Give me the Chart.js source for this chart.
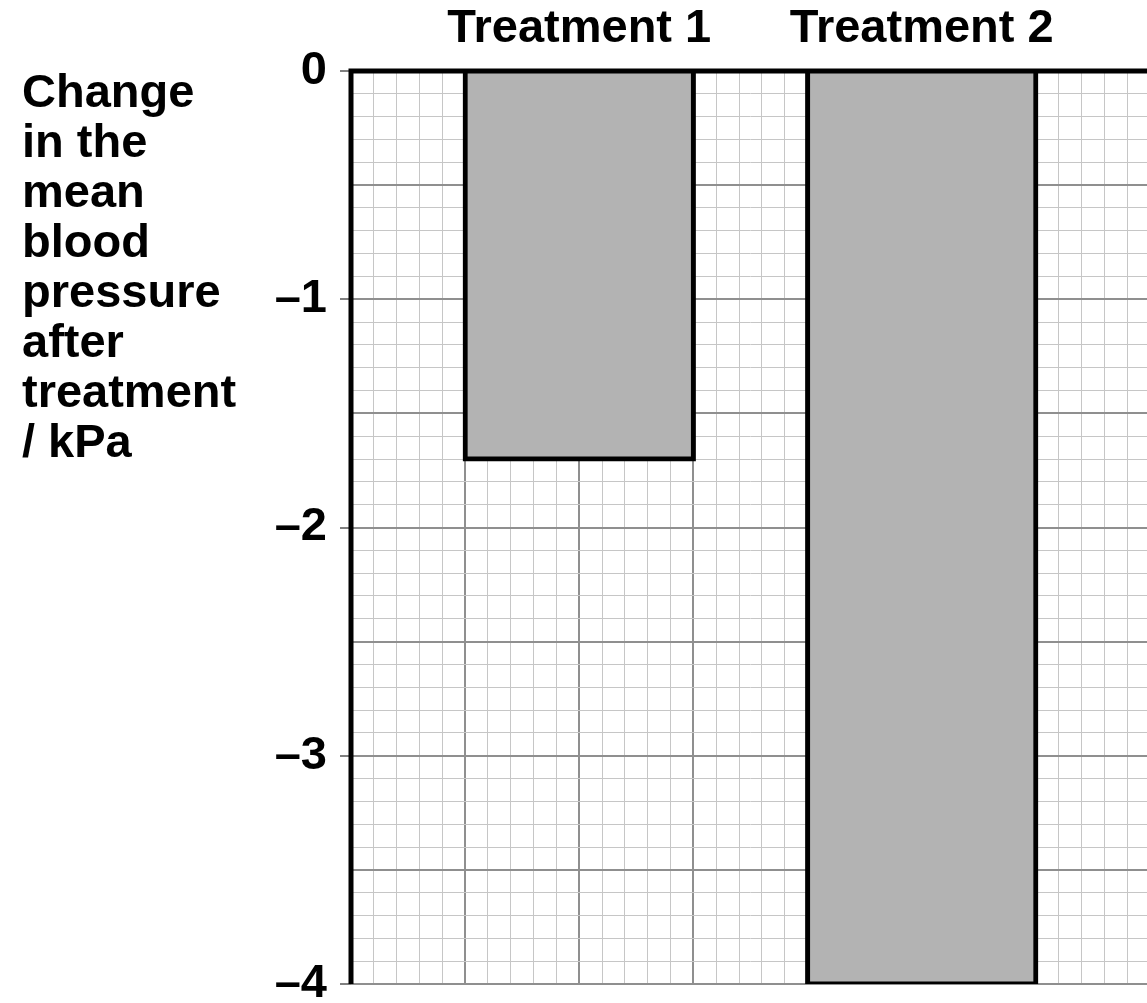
<!DOCTYPE html>
<html>
<head>
<meta charset="utf-8">
<script src="https://cdn.jsdelivr.net/npm/chart.js@4.4.0/dist/chart.umd.min.js"></script>
<style>
  html, body { margin: 0; padding: 0; background: #ffffff; overflow: hidden; width: 1147px; height: 1003px; }
  #wrap { position: relative; width: 1147px; height: 1003px; overflow: hidden; }
  #c { position: absolute; left: 0; top: 0; }
  #ytitle {
    position: absolute; left: 22px; top: 66px;
    font-family: "Liberation Sans", Arial, sans-serif; font-weight: bold;
    font-size: 47px; line-height: 50px; color: #000;
  }
</style>
</head>
<body>
<div id="wrap">
  <canvas id="c" width="1150" height="1003"></canvas>
  <div id="ytitle">Change<br>in the<br>mean<br>blood<br>pressure<br>after<br>treatment<br>/ kPa</div>
</div>
<script>
// ---- data ----
const categories = ['Treatment 1', 'Treatment 2'];
const categoryCentres = [10, 25];          // in grid squares along the x axis
const changeKPa = [-1.7, -4.0];
const yTickValues = [0, -1, -2, -3, -4];
const yMin = -4, yMax = 0;
const xMin = 0, xMax = 35;

const FONT = '"Liberation Sans", Arial, sans-serif';
const isInt = v => Math.abs(v - Math.round(v)) < 1e-6;
const isHalf = v => Math.abs(v * 2 - Math.round(v * 2)) < 1e-6;
const isFive = v => Math.abs(v / 5 - Math.round(v / 5)) < 1e-6;

const minorCol = '#c6c6c6', majorCol = '#8f8f8f';

const framePlugin = {
  id: 'frame',
  afterDatasetsDraw(chart) {
    const {ctx, chartArea: a} = chart;
    ctx.save();
    ctx.strokeStyle = '#000';
    ctx.lineWidth = 5;
    ctx.beginPath();
    ctx.moveTo(a.left - 2.5, a.top);
    ctx.lineTo(a.right + 5, a.top);
    ctx.moveTo(a.left, a.top);
    ctx.lineTo(a.left, a.bottom);
    ctx.stroke();
    ctx.restore();
  }
};

const data = categories.map((c, i) => ({x: categoryCentres[i], y: changeKPa[i]}));

new Chart(document.getElementById('c'), {
  type: 'bar',
  data: {
    datasets: [{
      data: data,
      backgroundColor: '#b3b3b3',
      borderColor: '#000000',
      borderWidth: 5,
      borderSkipped: 'start',
      inflateAmount: 2.5,
      barPercentage: 10,
      categoryPercentage: 1
    }]
  },
  options: {
    responsive: false,
    animation: false,
    devicePixelRatio: 1,
    layout: { padding: { left: 0, right: 0, top: 0, bottom: 19 } },
    plugins: { legend: { display: false }, tooltip: { enabled: false } },
    scales: {
      x: {
        type: 'linear',
        position: 'top',
        min: xMin, max: xMax,
        offset: false,
        afterFit: s => { s.height = 71; s.paddingLeft = 0; s.paddingRight = 0; },
        border: { display: false },
        grid: {
          offset: false,
          drawTicks: false,
          color: c => isFive(c.tick.value) ? majorCol : minorCol,
          lineWidth: c => isFive(c.tick.value) ? 2 : 1
        },
        ticks: {
          stepSize: 1,
          autoSkip: false,
          maxRotation: 0,
          maxTicksLimit: 1000,
          padding: 14,
          color: '#000',
          font: { family: FONT, weight: 'bold', size: 47 },
          callback: v => {
            const i = categoryCentres.indexOf(Math.round(v));
            return (isInt(v) && i >= 0) ? categories[i] : '';
          }
        }
      },
      y: {
        type: 'linear',
        min: yMin, max: yMax,
        afterFit: s => { s.width = 351; s.paddingTop = 0; s.paddingBottom = 0; },
        border: { display: false },
        grid: {
          drawTicks: true,
          tickLength: 11,
          tickWidth: 1,
          tickColor: c => isInt(c.tick.value) ? '#000' : 'rgba(0,0,0,0)',
          color: c => isHalf(c.tick.value) ? majorCol : minorCol,
          lineWidth: c => isHalf(c.tick.value) ? 2 : 1
        },
        ticks: {
          stepSize: 0.1,
          autoSkip: false,
          maxTicksLimit: 1000,
          padding: 13,
          color: '#000',
          font: { family: FONT, weight: 'bold', size: 47 },
          callback: v => {
            if (!isInt(v)) return '';
            const r = Math.round(v);
            if (!yTickValues.includes(r)) return '';
            return r < 0 ? '\u2013' + Math.abs(r) : String(r);
          }
        }
      }
    }
  },
  plugins: [framePlugin]
});
</script>
</body>
</html>
